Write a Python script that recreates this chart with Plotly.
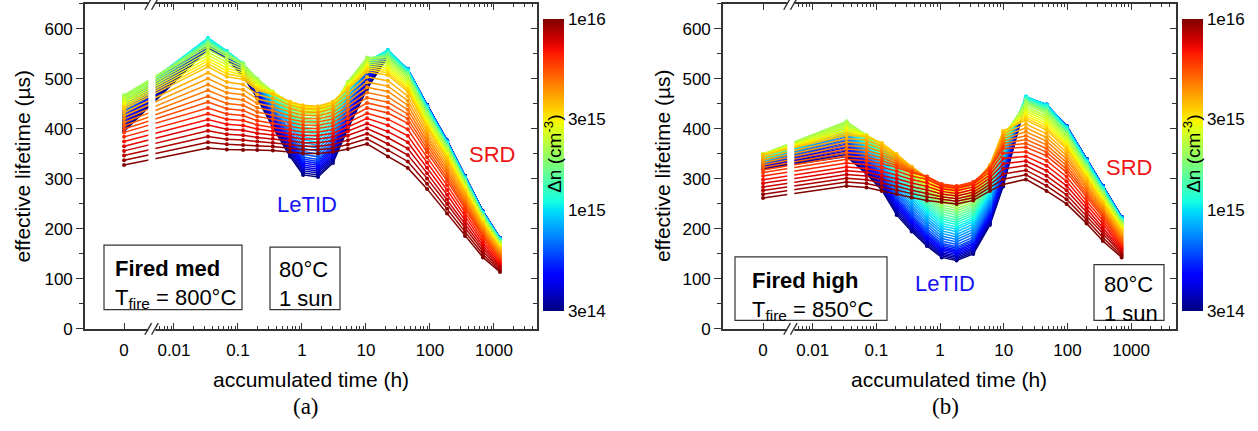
import numpy as np
import plotly.graph_objects as go

W, H = 1258, 431
FONT = "Liberation Sans, Arial, Helvetica, sans-serif"
SERIF = "Liberation Serif, Times New Roman, serif"
AX = "#333333"

# ---------------------------------------------------------------
# Injection-dependent effective lifetime (µs) vs. accumulated time.
# Each row: lifetime at one injection level Δn (cm^-3) for every
# measurement time; finer Δn levels are resampled on log(Δn).
# ---------------------------------------------------------------
DN_MIN, DN_MAX = 3e14, 1e16
N_LEVELS = 48
dn_anchor = [3e14, 6e14, 1e15, 2e15, 3.5e15, 6e15, 1e16]

# (a) Fired med, T_fire = 800 °C
times_a = [0, 0.034, 0.067, 0.12, 0.2, 0.35, 0.65, 1.04, 1.78, 3.05, 5.2,
           10.4, 22, 45, 90, 185, 352, 673, 1240]
tau_a_3e14 = [395, 560, 540, 505, 462, 403, 345, 308, 304, 332, 400,
              480, 545, 518, 448, 377, 306, 235, 182]
tau_a_6e14 = [430, 575, 550, 522, 482, 435, 385, 345, 340, 370, 440,
              515, 555, 520, 447, 376, 305, 234, 181]
tau_a_1e15 = [455, 582, 556, 531, 495, 460, 420, 385, 380, 405, 470,
              535, 558, 518, 444, 373, 302, 232, 180]
tau_a_2e15 = [468, 568, 548, 530, 501, 475, 450, 430, 428, 445, 495,
              543, 542, 505, 430, 362, 293, 224, 172]
tau_a_35e15 = [440, 525, 505, 500, 478, 470, 455, 448, 446, 455, 480,
               515, 508, 475, 402, 340, 275, 210, 161]
tau_a_6e15 = [392, 440, 428, 425, 415, 410, 405, 400, 400, 405, 420,
              440, 430, 410, 352, 295, 240, 183, 137]
tau_a_1e16 = [328, 362, 359, 358, 358, 357, 354, 351, 351, 354, 360,
              370, 345, 322, 280, 231, 186, 143, 114]

# (b) Fired high, T_fire = 850 °C
times_b = [0, 0.034, 0.070, 0.121, 0.208, 0.358, 0.62, 1.06, 1.82, 3.32,
           6.07, 9.8, 22.3, 47, 97, 200, 360, 710]
tau_b_3e14 = [320, 345, 310, 278, 228, 195, 166, 143, 137, 150,
              208, 285, 455, 445, 406, 340, 286, 224]
tau_b_6e14 = [328, 378, 340, 312, 265, 230, 197, 172, 165, 180,
              240, 320, 462, 449, 405, 339, 285, 223]
tau_b_1e15 = [336, 402, 365, 340, 300, 265, 232, 207, 200, 215,
              270, 350, 465, 448, 403, 336, 282, 221]
tau_b_2e15 = [350, 416, 388, 368, 338, 308, 275, 250, 243, 255,
              305, 385, 452, 432, 388, 322, 270, 212]
tau_b_35e15 = [348, 388, 385, 372, 350, 325, 302, 282, 278, 288,
               328, 396, 418, 398, 360, 300, 252, 196]
tau_b_6e15 = [312, 338, 335, 330, 322, 312, 305, 290, 286, 294,
              320, 360, 362, 345, 312, 262, 222, 168]
tau_b_1e16 = [262, 286, 283, 276, 270, 263, 257, 254, 250, 257,
              276, 289, 299, 276, 250, 211, 176, 143]

tau_a = [tau_a_3e14, tau_a_6e14, tau_a_1e15, tau_a_2e15, tau_a_35e15, tau_a_6e15, tau_a_1e16]
tau_b = [tau_b_3e14, tau_b_6e14, tau_b_1e15, tau_b_2e15, tau_b_35e15, tau_b_6e15, tau_b_1e16]

# axis ticks
x_tick_hours = [0, 0.01, 0.1, 1, 10, 100, 1000]
x_tick_text = ["0", "0.01", "0.1", "1", "10", "100", "1000"]
y_tick_vals = [0, 100, 200, 300, 400, 500, 600]
cbar_tick_dn = [3e14, 1e15, 3e15, 1e16]
cbar_tick_text = ["3e14", "1e15", "3e15", "1e16"]

# broken time axis: t = 0 sits left of the break, t > 0 on log10 scale
U_ZERO = -2.78
BREAK_LO, BREAK_HI = -2.40, -2.29


def xpos(t):
    return U_ZERO if t == 0 else float(np.log10(t))


def jet(f):
    f = min(max(f, 0.0), 1.0)

    def seg(pts):
        xs, ys = zip(*pts)
        return float(np.interp(f, xs, ys))

    r = seg([(0, 0), (0.35, 0), (0.66, 1), (0.89, 1), (1, 0.5)])
    g = seg([(0, 0), (0.125, 0), (0.375, 1), (0.64, 1), (0.91, 0), (1, 0)])
    b = seg([(0, 0.5), (0.11, 1), (0.34, 1), (0.65, 0), (1, 0)])
    return "rgb(%d,%d,%d)" % (round(r * 255), round(g * 255), round(b * 255))


LMIN, LMAX = np.log10(DN_MIN), np.log10(DN_MAX)
colorscale = [[k / 40, jet(k / 40)] for k in range(41)]
levels = np.logspace(LMIN, LMAX, N_LEVELS)


def level_curves(rows):
    arr = np.array(rows, float)
    la = np.log10(dn_anchor)
    return [[float(np.interp(np.log10(lv), la, arr[:, j])) for j in range(arr.shape[1])]
            for lv in levels]


fig = go.Figure()

panels = [
    dict(times=times_a, rows=tau_a, xa="x", ya="y", yr="y3",
         dom=[85 / W, 537 / W], rng=[-3.39, 3.672], cbx=542.7 / W),
    dict(times=times_b, rows=tau_b, xa="x2", ya="y2", yr="y4",
         dom=[723 / W, 1176 / W], rng=[-3.409, 3.705], cbx=1181.7 / W),
]

for p in panels:
    xs = [xpos(t) for t in p["times"]]
    for lv, curve in zip(levels, level_curves(p["rows"])):
        c = jet((np.log10(lv) - LMIN) / (LMAX - LMIN))
        fig.add_trace(go.Scatter(
            x=xs, y=curve, mode="lines+markers",
            line=dict(color=c, width=1.5),
            marker=dict(color=c, size=4),
            xaxis=p["xa"], yaxis=p["ya"],
            hoverinfo="skip", showlegend=False))
    # colour scale of Δn
    fig.add_trace(go.Scatter(
        x=[None], y=[None], mode="markers",
        marker=dict(color=[LMIN], cmin=LMIN, cmax=LMAX, colorscale=colorscale,
                    showscale=True, size=0,
                    colorbar=dict(
                        x=p["cbx"], xanchor="left", y=1 - 19 / H, yanchor="top",
                        len=292, lenmode="pixels", thickness=21,
                        thicknessmode="pixels", xpad=0, ypad=0,
                        outlinewidth=0, ticks="",
                        tickvals=[float(np.log10(v)) for v in cbar_tick_dn],
                        ticktext=cbar_tick_text,
                        tickfont=dict(size=17, family=FONT, color="black"))),
        xaxis=p["xa"], yaxis=p["yr"], hoverinfo="skip", showlegend=False))

ydom = [1 - 336.7 / H, 1 - 4 / H]

minor_u = []
for d in range(-3, 4):
    for k in range(2, 10):
        u = d + np.log10(k)
        if BREAK_HI < u < 3.67:
            minor_u.append(float(u))

xaxis_common = dict(
    tickmode="array", tickvals=[xpos(t) for t in x_tick_hours], ticktext=x_tick_text,
    ticks="inside", ticklen=6, tickwidth=1.3, tickcolor=AX,
    minor=dict(tickmode="array", tickvals=minor_u, ticks="inside", ticklen=3.5,
               tickwidth=1.1, tickcolor=AX, showgrid=False),
    showline=True, linecolor=AX, linewidth=1.6, mirror="ticks",
    showgrid=False, zeroline=False, ticklabelstandoff=5,
    tickfont=dict(size=17, family=FONT, color="black"))
yaxis_common = dict(
    range=[0, 650], tickmode="array", tickvals=y_tick_vals,
    ticks="outside", ticklen=7, tickwidth=1.3, tickcolor=AX,
    minor=dict(dtick=50, ticks="outside", ticklen=4, tickwidth=1.1,
               tickcolor=AX, showgrid=False),
    showline=True, linecolor=AX, linewidth=1.6, mirror=True,
    showgrid=False, zeroline=False,
    tickfont=dict(size=17, family=FONT, color="black"))
yright_common = dict(
    range=[0, 650], side="right", tickmode="array", tickvals=y_tick_vals,
    ticks="inside", ticklen=6, tickwidth=1.3, tickcolor=AX,
    minor=dict(dtick=50, ticks="inside", ticklen=4, tickwidth=1.1,
               tickcolor=AX, showgrid=False),
    showticklabels=False, showline=False, showgrid=False, zeroline=False)

fig.update_layout(
    width=W, height=H, margin=dict(l=0, r=0, t=0, b=0),
    paper_bgcolor="white", plot_bgcolor="white", showlegend=False,
    font=dict(family=FONT, color="black"),
    xaxis=dict(domain=panels[0]["dom"], range=panels[0]["rng"], anchor="y", **xaxis_common),
    xaxis2=dict(domain=panels[1]["dom"], range=panels[1]["rng"], anchor="y2", **xaxis_common),
    yaxis=dict(domain=ydom, anchor="x", **yaxis_common),
    yaxis2=dict(domain=ydom, anchor="x2", **yaxis_common),
    yaxis3=dict(overlaying="y", anchor="x", **yright_common),
    yaxis4=dict(overlaying="y2", anchor="x2", **yright_common),
)

shapes = []
for xa in ("x", "x2"):
    yr = "y domain" if xa == "x" else "y2 domain"
    # white gap of the axis break
    shapes.append(dict(type="rect", xref=xa, yref=yr,
                       x0=BREAK_LO, x1=BREAK_HI, y0=-0.03, y1=1.03,
                       fillcolor="white", line=dict(width=0), layer="above"))
    for yc in (0.0, 1.0):
        for x0 in (-2.455, -2.35):
            shapes.append(dict(type="line", xref=xa, yref=yr,
                               x0=x0, x1=x0 + 0.105, y0=yc - 0.018, y1=yc + 0.018,
                               line=dict(color=AX, width=1.4), layer="above"))


def px_rect(x0, y0, x1, y1):
    return dict(type="rect", xref="paper", yref="paper",
                x0=x0 / W, x1=x1 / W, y0=1 - y1 / H, y1=1 - y0 / H,
                line=dict(color=AX, width=1.2), fillcolor="rgba(0,0,0,0)", layer="above")


shapes += [px_rect(104, 251, 242, 317), px_rect(270, 253, 340, 317),
           px_rect(735, 263, 887, 328), px_rect(1094, 271, 1164, 328)]
fig.update_layout(shapes=shapes)


def ann(text, x, y, size, color="black", family=FONT, angle=0, xanchor="center", align="center"):
    return dict(text=text, x=x / W, y=1 - y / H, xref="paper", yref="paper",
                showarrow=False, textangle=angle, xanchor=xanchor, yanchor="middle",
                align=align, font=dict(size=size, color=color, family=family))


annotations = [
    ann("accumulated time (h)", 311, 389, 21),
    ann("accumulated time (h)", 949, 389, 21),
    ann("effective lifetime (µs)", 22.5, 170, 21, angle=-90),
    ann("effective lifetime (µs)", 662, 170, 21, angle=-90),
    ann("(a)", 306, 416, 23, family=SERIF),
    ann("(b)", 945, 416, 23, family=SERIF),
    ann("LeTID", 307, 209, 22, color="#1414f0"),
    ann("LeTID", 945, 290, 22, color="#1414f0"),
    ann("SRD", 492, 158, 22, color="#f01414"),
    ann("SRD", 1129, 171, 22, color="#f01414"),
    ann("Δn (cm<sup>-3</sup>)", 553.5, 158, 19, angle=-90),
    ann("Δn (cm<sup>-3</sup>)", 1192.5, 158, 19, angle=-90),
    ann("<b>Fired med</b><br>T<sub>fire</sub> = 800°C", 113, 291, 22,
        xanchor="left", align="left"),
    ann("80°C<br>1 sun", 277, 291, 22, xanchor="left", align="left"),
    ann("<b>Fired high</b><br>T<sub>fire</sub> = 850°C", 750, 303, 22,
        xanchor="left", align="left"),
    ann("80°C<br>1 sun", 1101.7, 306, 22, xanchor="left", align="left"),
]
fig.update_layout(annotations=annotations)

fig.write_html("out.html")
